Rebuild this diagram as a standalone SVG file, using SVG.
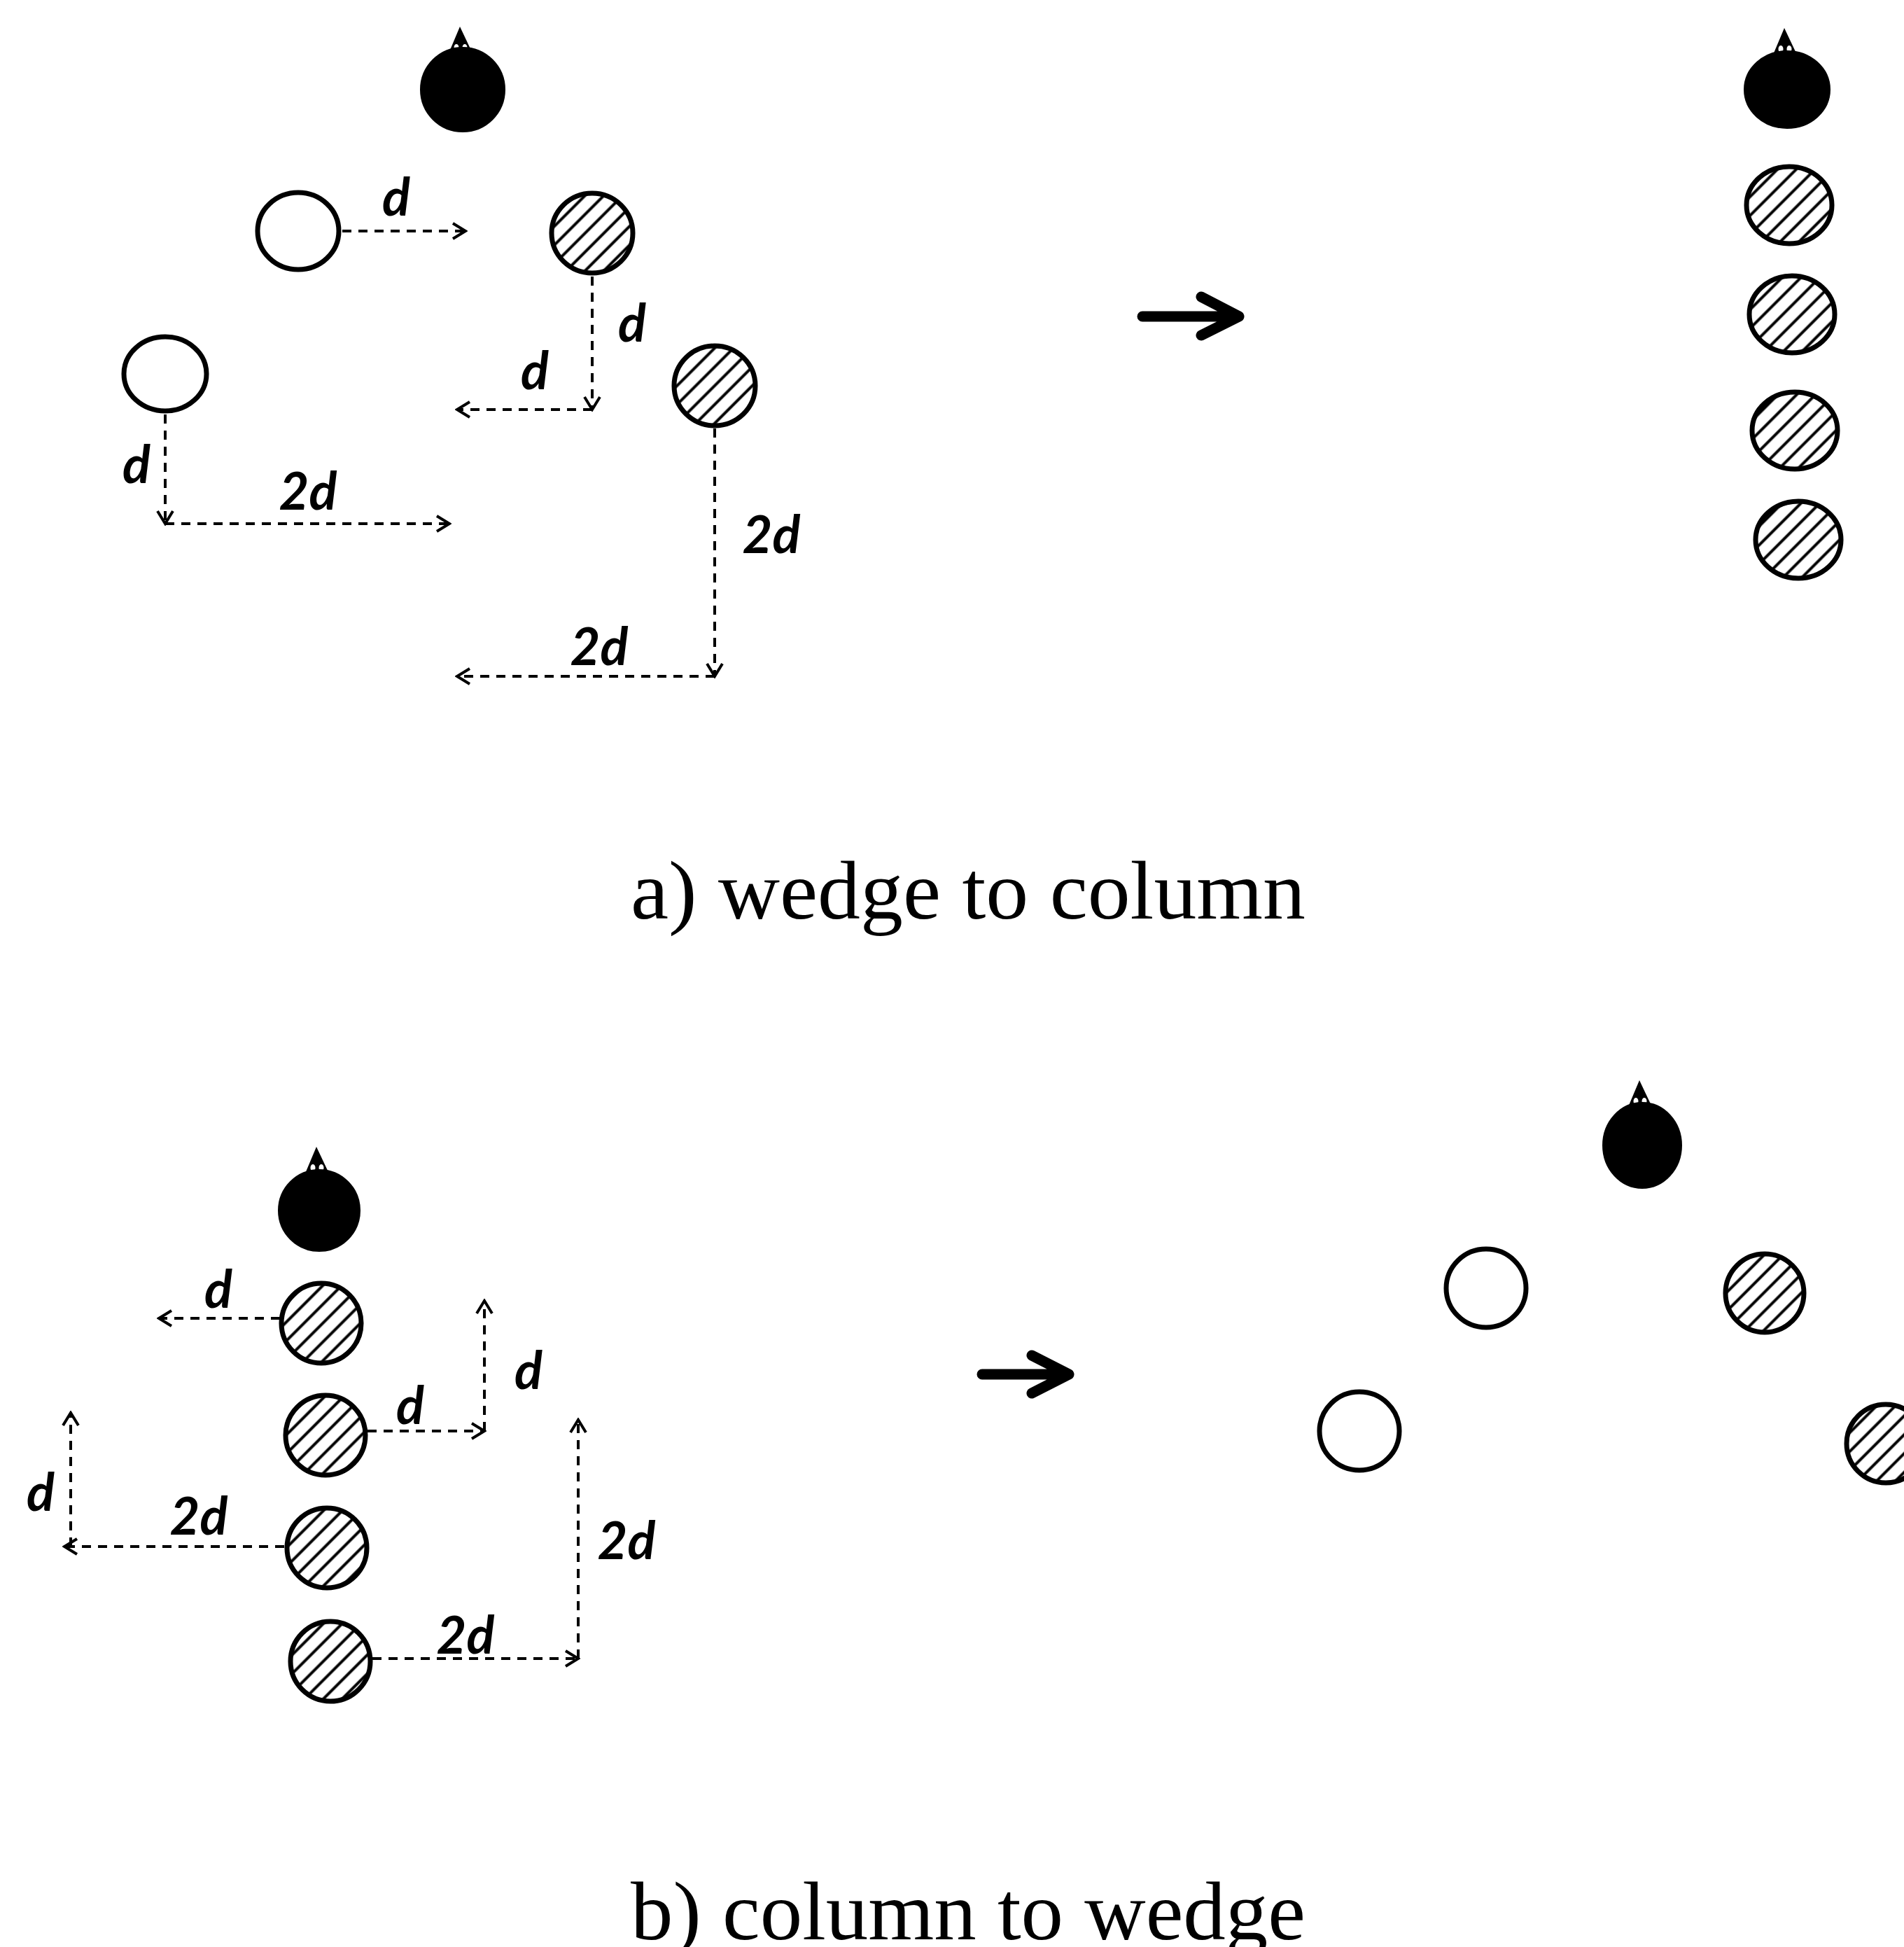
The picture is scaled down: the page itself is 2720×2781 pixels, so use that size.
<svg xmlns="http://www.w3.org/2000/svg" width="2720" height="2781" viewBox="0 0 2720 2781">
<style>
.open{fill:#fff;stroke:#000;stroke-width:7}
.hat{fill:url(#hatch);stroke:#000;stroke-width:7}
.lead{fill:#000;stroke:#000;stroke-width:2}
.dash{fill:none;stroke:#000;stroke-width:4;stroke-dasharray:13 10;marker-end:url(#ah)}
.big{fill:none;stroke:#000;stroke-width:15;stroke-linecap:round;stroke-linejoin:round}
.lbl{font-family:Lato,"Liberation Sans",sans-serif;font-weight:bold;font-style:italic;font-size:74px;fill:#000;text-anchor:middle}
.cap{font-family:"Liberation Serif","DejaVu Serif",serif;font-size:118px;fill:#000;text-anchor:middle}
</style>
<defs>
<pattern id="hatch" patternUnits="userSpaceOnUse" width="19" height="19" patternTransform="rotate(-45)">
<rect width="19" height="19" fill="#fff"/>
<line x1="0" y1="9.5" x2="19" y2="9.5" stroke="#000" stroke-width="4"/>
</pattern>
<marker id="ah" viewBox="0 0 26 26" refX="23" refY="13" markerWidth="26" markerHeight="26" markerUnits="userSpaceOnUse" orient="auto">
<path d="M5,2 L23,13 L5,24" fill="none" stroke="#000" stroke-width="4" stroke-dasharray="none"/>
</marker>
<g id="tip">
<path d="M-4,-34 L-20,4 L14,4 Z" fill="#000"/>
<ellipse cx="-9" cy="-4" rx="3.5" ry="5" fill="#fff"/>
<ellipse cx="3" cy="-4" rx="3.5" ry="5" fill="#fff"/>
</g>
</defs>
<rect width="2720" height="2781" fill="#fff"/>

<!-- a) wedge to column -->
<g id="a-leader"><use href="#tip" x="661" y="72"/><ellipse class="lead" cx="661" cy="128" rx="60" ry="60"/></g>
<g id="a-w1"><ellipse class="open" cx="426" cy="330" rx="58" ry="55"/></g>
<g id="a-h1"><ellipse class="hat" cx="846" cy="333" rx="58" ry="57"/></g>
<g id="a-w2"><ellipse class="open" cx="236" cy="534" rx="59" ry="53"/></g>
<g id="a-h2"><ellipse class="hat" cx="1021" cy="551" rx="58" ry="57"/></g>

<g id="a-col-leader"><use href="#tip" x="2553" y="74"/><ellipse class="lead" cx="2553" cy="128" rx="61" ry="55"/></g>
<g id="a-col1"><ellipse class="hat" cx="2556" cy="293" rx="61" ry="55"/></g>
<g id="a-col2"><ellipse class="hat" cx="2560" cy="449" rx="61" ry="55"/></g>
<g id="a-col3"><ellipse class="hat" cx="2564" cy="615" rx="61" ry="55"/></g>
<g id="a-col4"><ellipse class="hat" cx="2569" cy="771" rx="61" ry="55"/></g>

<!-- b) column to wedge -->
<g id="b-leader"><use href="#tip" x="456" y="1672"/><ellipse class="lead" cx="456" cy="1729" rx="58" ry="58"/></g>
<g id="b-c1"><ellipse class="hat" cx="459" cy="1890" rx="57" ry="57"/></g>
<g id="b-c2"><ellipse class="hat" cx="465" cy="2050" rx="57" ry="57"/></g>
<g id="b-c3"><ellipse class="hat" cx="467" cy="2211" rx="57" ry="57"/></g>
<g id="b-c4"><ellipse class="hat" cx="472" cy="2373" rx="57" ry="57"/></g>

<g id="b-w-leader"><use href="#tip" x="2346" y="1577"/><ellipse class="lead" cx="2346" cy="1636" rx="56" ry="61"/></g>
<g id="b-w1"><ellipse class="open" cx="2123" cy="1840" rx="57" ry="56"/></g>
<g id="b-w2"><ellipse class="hat" cx="2521" cy="1847" rx="56" ry="56"/></g>
<g id="b-w3"><ellipse class="open" cx="1942" cy="2044" rx="57" ry="56"/></g>
<g id="b-w4"><ellipse class="hat" cx="2694" cy="2062" rx="56" ry="56"/></g>

<g id="connectors">
<line class="dash" x1="489" y1="330" x2="665" y2="330"/>
<line class="dash" x1="846" y1="395" x2="846" y2="585"/>
<line class="dash" x1="846" y1="585" x2="653" y2="585"/>
<line class="dash" x1="236" y1="592" x2="236" y2="748"/>
<line class="dash" x1="236" y1="748" x2="642" y2="748"/>
<line class="dash" x1="1021" y1="612" x2="1021" y2="966"/>
<line class="dash" x1="1021" y1="966" x2="653" y2="966"/>

<line class="dash" x1="400" y1="1883" x2="227" y2="1883"/>
<line class="dash" x1="525" y1="2044" x2="692" y2="2044"/>
<line class="dash" x1="692" y1="2044" x2="692" y2="1858"/>
<line class="dash" x1="406" y1="2209" x2="92" y2="2209"/>
<line class="dash" x1="101" y1="2209" x2="101" y2="2018"/>
<line class="dash" x1="532" y1="2369" x2="826" y2="2369"/>
<line class="dash" x1="826" y1="2369" x2="826" y2="2028"/>

<path class="big" d="M1632,452 L1766,452 M1716,424 L1770,452 L1716,479"/>
<path class="big" d="M1403,1963 L1523,1963 M1474,1936 L1527,1963 L1474,1990"/>
</g>

<g id="labels">
<text class="lbl" x="566" y="308">d</text>
<text class="lbl" x="903" y="488">d</text>
<text class="lbl" x="764" y="556">d</text>
<text class="lbl" x="195" y="690">d</text>
<text class="lbl" x="440" y="728">2d</text>
<text class="lbl" x="1102" y="790">2d</text>
<text class="lbl" x="856" y="950">2d</text>

<text class="lbl" x="312" y="1868">d</text>
<text class="lbl" x="586" y="2034">d</text>
<text class="lbl" x="755" y="1984">d</text>
<text class="lbl" x="284" y="2192">2d</text>
<text class="lbl" x="58" y="2158">d</text>
<text class="lbl" x="665" y="2362">2d</text>
<text class="lbl" x="895" y="2227">2d</text>
</g>

<text class="cap" x="1383" y="1312" textLength="964" lengthAdjust="spacingAndGlyphs">a) wedge to column</text>
<text class="cap" x="1383" y="2770" textLength="964" lengthAdjust="spacingAndGlyphs">b) column to wedge</text>
</svg>
